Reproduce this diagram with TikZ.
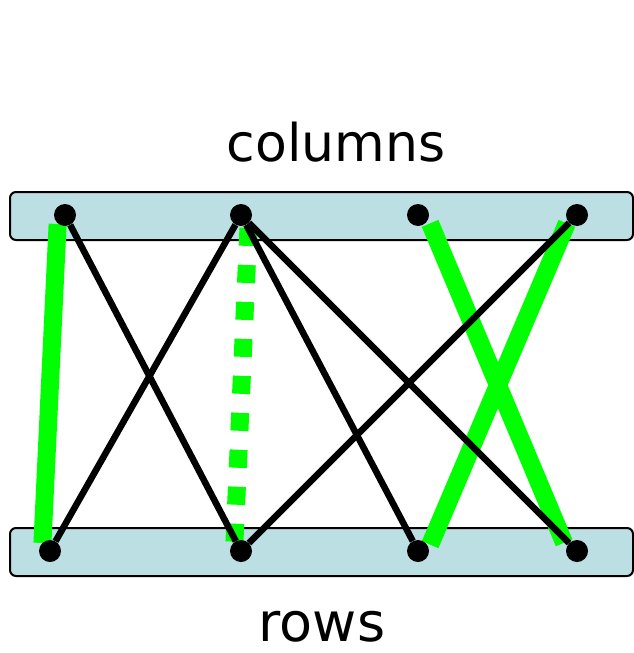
\documentclass[tikz,border=0pt]{standalone}
\usepackage{fontspec}
\setmainfont{DejaVu Sans}
\usepackage{xcolor}
\usetikzlibrary{positioning}
\definecolor{bandblue}{HTML}{BBDFE3}
\definecolor{matchgreen}{HTML}{00FF00}

\begin{document}
\begin{tikzpicture}[
  x=1pt, y=-1pt,
  band/.style={draw, line width=2pt, rounded corners=6pt, fill=bandblue,
               minimum width=623pt, minimum height=48pt, inner sep=0pt},
  vertex/.style={circle, fill=black, inner sep=0pt, minimum size=22pt},
  edge/.style={line width=6.5pt},
  match/.style={line width=18pt, draw=matchgreen},
  setname/.style={anchor=base, inner sep=0pt}
]
  \useasboundingbox (0,0) rectangle (634,653);
  % the two vertex sets
  \node[band] (top) at (321.5,216) {};
  \node[band] (bot) at (321.5,552) {};
  \node[setname, font=\fontsize{52}{60}\selectfont] (cols) at (336,161) {columns};
  \node[setname, font=\fontsize{54}{62}\selectfont] (rows) at (322,641) {rows};
  % matched edges
  \draw[match, shorten <=8pt, shorten >=9pt] ([xshift=-7pt]top.center -| 65,0) -- ([xshift=-8pt]bot.center -| 50,0);
  \draw[match, dash pattern=on 18pt off 19pt, shorten <=12pt, shorten >=8pt]
    ([xshift=8pt]top.center -| 241,0) -- ([xshift=-7pt]bot.center -| 241,0);
  \draw[match, shorten <=8pt, shorten >=10pt] ([xshift=9pt]top.center -| 418,0) -- ([xshift=-9pt]bot.center -| 577,0);
  \draw[match, shorten <=8pt, shorten >=8pt] ([xshift=-7pt]top.center -| 577,0) -- ([xshift=9pt]bot.center -| 418,0);
  % vertices
  \foreach \x [count=\i] in {65,241,418,577} {
    \node[vertex] (c\i) at (\x,215) {};
  }
  \foreach \x [count=\i] in {50,241,418,577} {
    \node[vertex] (r\i) at (\x,551) {};
  }
  % other edges
  \draw[edge] (c1) -- (r2);
  \draw[edge] (c2) -- (r1);
  \draw[edge] (c2) -- (r3);
  \draw[edge] (c2) -- (r4);
  \draw[edge] (c4) -- (r2);
\end{tikzpicture}
\end{document}
